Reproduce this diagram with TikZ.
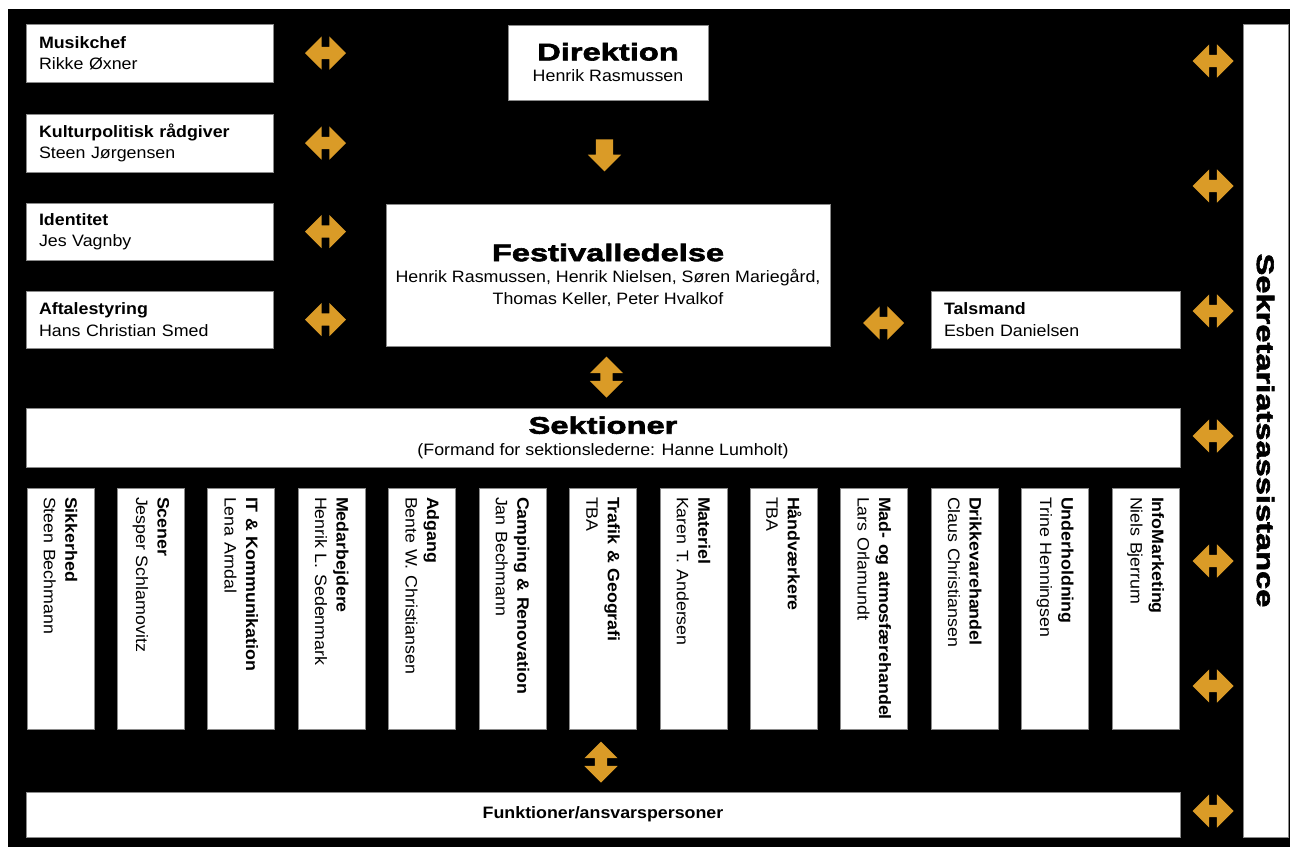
\documentclass[tikz,border=0pt]{standalone}
\usepackage{fontspec}
\setmainfont{Liberation Sans}[FakeStretch=1.08]
\newfontfamily\headfont{Liberation Sans}[FakeStretch=1.36,FakeBold=2.5]
\usetikzlibrary{shapes.arrows}
\definecolor{corange}{HTML}{DA9B27}
\definecolor{cline}{HTML}{8A8A8A}
\newcommand\headline[1]{{\headfont\bfseries\fontsize{24}{22}\selectfont #1}}
\tikzset{
  every picture/.style={x=1pt, y=-1pt, font=\fontsize{16.5}{21.5}\selectfont},
  box/.style={draw=cline, line width=0.8pt, fill=white, inner ysep=0pt},
  leftbox/.style={box, minimum width=#1, text width=#1-26pt, inner xsep=13pt, align=left},
  midbox/.style={box, minimum width=#1, align=center},
  colbox/.style={box, rotate=-90, minimum width=241pt, minimum height=67pt, text width=223pt, inner xsep=9pt, align=left},
  harrow/.style={double arrow, fill=corange, inner sep=6pt, minimum height=41pt, minimum width=33pt,
                 double arrow head extend=10.5pt, double arrow tip angle=90},
  varrow/.style={harrow, shape border rotate=90},
  downarrow/.style={single arrow, shape border rotate=270, fill=corange, inner sep=8.5pt,
                    minimum height=32pt, minimum width=33pt, single arrow head extend=8pt},
}

\begin{document}
\begin{tikzpicture}
  \useasboundingbox (0,0) rectangle (1290,847);
  \fill[black] (8,9) rectangle (1290,847);
  % left column of staff boxes
  \node[leftbox=247pt, minimum height=58pt] (musik) at (149.5,53) {\textbf{Musikchef}\\ Rikke Øxner};
  \node[leftbox=247pt, minimum height=58pt] (kultur) at (149.5,143) {\textbf{Kulturpolitisk rådgiver}\\ Steen Jørgensen};
  \node[leftbox=247pt, minimum height=57pt] (identitet) at (149.5,231.5) {\textbf{Identitet}\\ Jes Vagnby};
  \node[leftbox=247pt, minimum height=57pt] (aftale) at (149.5,319.5) {\textbf{Aftalestyring}\\ Hans Christian Smed};
  \node[leftbox=249pt, minimum height=57pt] (talsmand) at (1055.5,319.5) {\textbf{Talsmand}\\ Esben Danielsen};
  % management
  \node[midbox=200pt, minimum height=75pt] (direktion) at (608,62.5) {\headline{Direktion}\\ Henrik Rasmussen};
  \node[midbox=444pt, minimum height=142pt] (ledelse) at (608,275)
    {\headline{Festivalledelse}\\ Henrik Rasmussen, Henrik Nielsen, Søren Mariegård,\\ Thomas Keller, Peter Hvalkof};
  \node[midbox=1154pt, minimum height=59pt] (sektioner) at (603,437.5)
    {\headline{Sektioner}\\ (Formand for sektionslederne: Hanne Lumholt)};
  \node[midbox=1154pt, minimum height=45pt] (funktioner) at (603,814.5) {\textbf{Funktioner/ansvarspersoner}};
  \node[box, rotate=-90, minimum width=813pt, minimum height=45pt] (sekretariat) at (1265.5,430.5)
    {\headline{Sekretariatsassistance}};
  % one column per section
  \foreach \t/\n [count=\i from 0] in {Sikkerhed/Steen Bechmann, Scener/Jesper Schlamovitz,
      IT \& Kommunikation/Lena Arndal, Medarbejdere/Henrik L. Sedenmark, Adgang/Bente W. Christiansen,
      Camping \& Renovation/Jan Bechmann, Trafik \& Geografi/TBA, Materiel/Karen T. Andersen,
      Håndværkere/TBA, Mad- og atmosfærehandel/Lars Orlamundt, Drikkevarehandel/Claus Christiansen,
      Underholdning/Trine Henningsen, InfoMarketing/Niels Bjerrum}
    \node[colbox] (col\i) at ({60.5+90.42*\i},608.5) {\textbf{\t}\\ \n};
  % block arrows
  \foreach \y [count=\i] in {53, 143, 231.5, 319.5}
    \node[harrow] (la\i) at (325.5,\y) {};
  \foreach \y [count=\i] in {61, 186, 311, 436, 561, 686, 811}
    \node[harrow] (ra\i) at (1213,\y) {};
  \node[harrow] (ta) at (883.5,323) {};
  \node[downarrow] (da) at (604.5,151) {};
  \node[varrow] (va) at (606.5,377) {};
  \node[varrow] (fa) at (601,762) {};
\end{tikzpicture}
\end{document}
